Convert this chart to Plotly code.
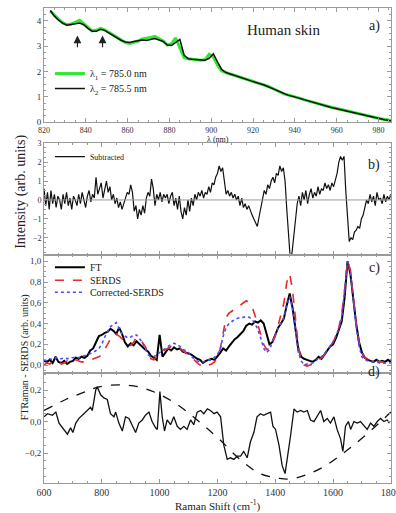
import plotly.graph_objects as go

# ---------------- Panel a: raw spectra vs wavelength ----------------
wl_nm = list(range(823, 990, 2))
lam2_black = [4.40,4.18,4.02,3.90,3.82,3.84,3.88,3.91,3.84,3.70,
              3.58,3.58,3.66,3.62,3.52,3.42,3.32,3.22,3.16,3.14,
              3.18,3.20,3.24,3.22,3.27,3.30,3.24,3.18,3.04,3.02,
              3.15,3.26,2.65,2.50,2.48,2.46,2.45,2.44,2.52,2.70,
              2.38,2.08,1.96,1.90,1.84,1.79,1.72,1.67,1.63,1.58,
              1.54,1.48,1.41,1.34,1.26,1.18,1.10,1.06,1.02,0.97,
              0.92,0.86,0.81,0.76,0.71,0.67,0.63,0.59,0.55,0.51,
              0.47,0.43,0.39,0.35,0.31,0.27,0.23,0.19,0.16,0.13,
              0.10,0.07,0.05,0.03]
lam1_green = [4.38,4.20,4.05,3.92,3.84,3.87,3.95,4.02,3.88,3.72,
              3.60,3.62,3.70,3.64,3.54,3.44,3.33,3.22,3.14,3.10,
              3.14,3.20,3.28,3.30,3.34,3.38,3.30,3.20,3.04,3.10,
              3.32,2.90,2.55,2.50,2.48,2.46,2.44,2.46,2.68,2.58,
              2.25,2.02,1.95,1.90,1.85,1.80,1.73,1.68,1.64,1.59,
              1.55,1.49,1.42,1.35,1.27,1.19,1.11,1.07,1.03,0.98,
              0.93,0.87,0.82,0.77,0.72,0.68,0.64,0.60,0.56,0.52,
              0.48,0.44,0.40,0.36,0.32,0.28,0.24,0.20,0.17,0.14,
              0.11,0.08,0.06,0.04]
arrow_nm = [836, 848]

# ---------------- Panel b: subtracted spectrum ----------------
sub_start, sub_step = 600, 6
subtracted = [0.6,-0.3,0.4,-0.5,0.5,-0.2,0.3,-0.4,0.2,0.0,
              -0.5,0.3,-0.2,0.4,-0.3,0.1,-0.5,0.2,0.0,-0.3,
              0.3,-0.2,0.4,0.0,-0.4,0.2,0.5,-0.1,0.3,0.1,
              1.2,0.3,0.6,0.9,0.1,0.5,1.0,0.4,0.7,0.0,
              0.3,-0.2,0.1,-0.4,-0.1,-0.5,-0.2,0.1,0.4,0.3,
              0.8,0.4,-0.6,-0.3,-1.0,-0.5,-0.8,-0.3,-0.7,0.1,
              0.4,0.2,1.1,0.6,-0.3,0.3,0.0,0.4,-0.1,0.3,
              0.1,0.3,-0.2,0.2,0.4,-0.3,0.1,-0.5,0.2,-0.6,
              -1.0,-0.4,-0.8,0.0,-0.6,0.1,-0.3,0.3,0.0,0.4,
              0.2,0.5,0.1,0.4,0.3,0.7,0.4,0.9,0.8,1.2,
              1.4,1.8,1.5,1.7,0.9,0.3,0.5,0.2,0.4,0.1,
              0.3,0.0,0.2,-0.3,0.1,-0.4,-0.2,-0.5,-0.3,-0.6,
              -0.8,-1.0,-1.2,-1.4,-0.9,-0.4,0.2,0.5,0.3,0.8,
              0.6,1.0,1.2,0.9,1.4,1.3,1.8,1.5,1.7,1.0,
              -0.5,-2.0,-3.1,-2.8,-2.0,-1.0,-0.2,0.2,-0.3,0.4,
              0.0,0.5,-0.2,0.3,0.6,0.1,0.4,0.2,0.7,0.3,
              0.6,0.5,0.9,0.6,0.8,0.5,0.9,0.7,1.0,1.4,
              2.0,2.3,2.1,2.3,0.5,-1.2,-2.2,-2.0,-2.1,-1.7,
              -1.6,-1.4,-1.5,-1.0,-0.8,-0.4,0.0,-0.2,0.3,-0.1,
              0.2,-0.3,0.4,0.0,0.1,-0.2,0.3,-0.1,0.2,0.0,
              0.3]
sub_shift = [sub_start + sub_step * i for i in range(len(subtracted))]

# ---------------- Panel c: normalised spectra ----------------
raman_c = list(range(600, 1801, 10))
ft = [0.04,0.03,0.05,0.02,0.08,0.03,0.02,0.04,0.01,0.03,
      0.04,0.07,0.06,0.08,0.07,0.09,0.14,0.16,0.22,0.28,
      0.29,0.31,0.32,0.35,0.33,0.30,0.36,0.30,0.22,0.18,
      0.21,0.19,0.23,0.20,0.17,0.15,0.13,0.09,0.07,0.05,
      0.29,0.08,0.12,0.16,0.14,0.17,0.15,0.16,0.13,0.12,
      0.11,0.10,0.08,0.06,0.05,0.02,0.04,0.05,0.06,0.05,
      0.08,0.12,0.16,0.14,0.18,0.22,0.25,0.27,0.30,0.33,
      0.38,0.40,0.39,0.42,0.41,0.43,0.40,0.30,0.20,0.22,
      0.30,0.36,0.40,0.45,0.58,0.69,0.55,0.33,0.15,0.08,
      0.06,0.05,0.04,0.03,0.05,0.08,0.06,0.10,0.14,0.18,
      0.20,0.26,0.34,0.42,0.65,1.00,0.88,0.62,0.40,0.22,
      0.12,0.07,0.05,0.04,0.03,0.05,0.03,0.04,0.03,0.05,
      0.03]
serds = [0.00,0.02,0.01,0.03,0.02,0.03,0.01,0.02,0.04,0.02,
         0.03,0.05,0.04,0.03,0.03,0.04,0.05,0.06,0.07,0.08,
         0.10,0.15,0.19,0.25,0.28,0.30,0.28,0.25,0.22,0.20,
         0.19,0.22,0.27,0.25,0.22,0.18,0.12,0.06,0.05,0.08,
         0.11,0.13,0.15,0.16,0.18,0.17,0.17,0.16,0.14,0.12,
         0.10,0.07,0.05,0.02,0.00,0.01,0.02,0.00,0.01,0.03,
         0.08,0.16,0.32,0.46,0.50,0.52,0.54,0.56,0.58,0.60,
         0.62,0.60,0.56,0.48,0.38,0.28,0.20,0.15,0.16,0.22,
         0.28,0.38,0.48,0.60,0.80,0.88,0.72,0.42,0.18,0.05,
         0.00,-0.01,0.00,0.01,0.02,0.05,0.07,0.10,0.14,0.18,
         0.22,0.28,0.36,0.50,0.72,1.00,0.92,0.65,0.40,0.22,
         0.12,0.07,0.06,0.05,0.04,0.04,0.03,0.03,0.02,0.03,
         0.02]
corrected = [0.05,0.04,0.06,0.05,0.07,0.06,0.06,0.07,0.06,0.07,
             0.07,0.08,0.07,0.08,0.09,0.10,0.11,0.12,0.14,0.16,
             0.20,0.27,0.32,0.37,0.39,0.41,0.35,0.30,0.28,0.26,
             0.27,0.29,0.29,0.26,0.22,0.16,0.10,0.08,0.08,0.10,
             0.12,0.14,0.16,0.18,0.20,0.21,0.20,0.18,0.15,0.14,
             0.12,0.08,0.06,0.04,0.03,0.03,0.04,0.05,0.05,0.08,
             0.10,0.16,0.28,0.36,0.40,0.42,0.44,0.45,0.46,0.46,
             0.47,0.46,0.44,0.40,0.34,0.26,0.16,0.12,0.15,0.22,
             0.30,0.36,0.40,0.46,0.58,0.66,0.55,0.32,0.12,0.04,
             0.00,0.01,0.02,0.02,0.04,0.07,0.08,0.11,0.14,0.18,
             0.22,0.28,0.35,0.45,0.70,1.00,0.90,0.62,0.38,0.18,
             0.08,0.05,0.04,0.03,0.03,0.03,0.02,0.02,0.02,0.02,
             0.02]

# ---------------- Panel d: FT Raman - SERDS ----------------
diff_x = [600,612,629,641,652,664,675,681,692,700,710,721,738,750,761,767,779,784,796,807,
          819,830,842,848,859,871,882,894,905,917,928,940,951,963,974,986,992,1001,1009,1017,
          1026,1038,1049,1061,1072,1084,1095,1107,1118,1130,1142,1153,1165,1176,1188,1199,1211,1222,1234,1245,
          1257,1268,1280,1291,1303,1314,1326,1337,1349,1360,1372,1384,1392,1401,1413,1424,1434,1443,1453,1465,
          1476,1488,1499,1511,1522,1534,1545,1557,1568,1580,1591,1603,1614,1626,1634,1643,1653,1661,1672,1684,
          1695,1707,1718,1730,1741,1753,1764,1776,1787,1795]
diff_y = [0.03,0.05,0.04,0.06,-0.01,-0.04,-0.06,-0.08,-0.04,-0.07,-0.01,0.02,0.05,0.07,0.09,0.07,0.20,0.22,0.17,0.15,
          0.14,0.05,0.03,0.06,-0.01,-0.06,0.03,0.02,-0.02,-0.07,-0.01,0.01,0.04,0.06,0.00,-0.04,-0.05,0.19,0.03,-0.06,
          0.01,-0.02,0.03,-0.03,-0.05,-0.03,-0.05,0.01,-0.02,0.06,0.07,0.05,0.08,0.07,0.05,0.06,0.03,-0.15,-0.24,-0.23,
          -0.24,-0.22,-0.22,-0.19,-0.23,-0.13,-0.07,0.03,0.05,0.04,0.05,0.06,-0.03,-0.05,-0.15,-0.28,-0.33,-0.22,-0.09,0.08,
          0.06,0.07,0.06,0.07,0.01,0.00,0.03,0.07,0.00,0.02,-0.01,0.03,-0.05,-0.11,-0.19,-0.03,0.00,-0.05,0.00,-0.01,
          0.00,-0.03,-0.05,-0.01,-0.03,0.00,0.02,0.00,0.01,-0.01]
base_x = [600,675,744,790,859,928,997,1067,1136,1205,1278,1347,1413,1449,1505,1574,1643,1717,1800]
base_y = [0.07,0.14,0.19,0.22,0.233,0.22,0.175,0.10,0.0,-0.11,-0.24,-0.33,-0.36,-0.365,-0.34,-0.28,-0.19,-0.08,0.06]

FONT = "Liberation Serif, Times New Roman, DejaVu Serif, serif"
fig = go.Figure()

fig.add_trace(go.Scatter(x=wl_nm, y=lam1_green, mode="lines", name="λ<sub>1</sub> = 785.0 nm",
                         line=dict(color="#33e633", width=3), xaxis="x", yaxis="y", legend="legend"))
fig.add_trace(go.Scatter(x=wl_nm, y=lam2_black, mode="lines", name="λ<sub>2</sub> = 785.5 nm",
                         line=dict(color="#111111", width=1.5), xaxis="x", yaxis="y", legend="legend4"))
fig.add_trace(go.Scatter(x=sub_shift, y=subtracted, mode="lines", name="Subtracted",
                         line=dict(color="#111111", width=1.2), xaxis="x2", yaxis="y2", legend="legend2"))
fig.add_trace(go.Scatter(x=raman_c, y=ft, mode="lines", name="FT",
                         line=dict(color="#000000", width=2), xaxis="x3", yaxis="y3", legend="legend3"))
fig.add_trace(go.Scatter(x=raman_c, y=serds, mode="lines", name="SERDS",
                         line=dict(color="#e8282a", width=1.6, dash="dash"), xaxis="x3", yaxis="y3", legend="legend5"))
fig.add_trace(go.Scatter(x=raman_c, y=corrected, mode="lines", name="Corrected-SERDS",
                         line=dict(color="#4a4aff", width=1.6, dash="dot"), xaxis="x3", yaxis="y3", legend="legend6"))
fig.add_trace(go.Scatter(x=diff_x, y=diff_y, mode="lines", showlegend=False,
                         line=dict(color="#111111", width=1.3), xaxis="x4", yaxis="y4"))
fig.add_trace(go.Scatter(x=base_x, y=base_y, mode="lines", showlegend=False, line_shape="spline",
                         line=dict(color="#111111", width=1.3, dash="dash"), xaxis="x4", yaxis="y4"))

ax_common = dict(showline=True, mirror="allticks", linecolor="#9a9a9a", linewidth=1,
                 ticks="inside", ticklen=4, tickcolor="#9a9a9a", showgrid=False, zeroline=False,
                 tickfont=dict(family=FONT, size=9, color="#333"))

def minor(d):
    return dict(ticks="inside", ticklen=2, tickcolor="#9a9a9a", dtick=d)

def leg(x, y, size):
    return dict(x=x, y=y, xanchor="left", yanchor="middle", bgcolor="rgba(0,0,0,0)",
                font=dict(family=FONT, size=size, color="#222"), itemwidth=30)

dom_a = [0.7594, 1.0]
dom_b = [0.4791, 0.7155]
dom_c = [0.2322, 0.4791]
dom_d = [0.0, 0.2322]

fig.update_layout(
    width=396, height=513, margin=dict(l=44, r=4, t=5, b=30),
    paper_bgcolor="white", plot_bgcolor="white", separators=",.",
    font=dict(family=FONT, color="#222"),
    xaxis=dict(ax_common, domain=[0, 1], anchor="y", range=[820, 986], dtick=20, minor=minor(5),
               tickfont=dict(family=FONT, size=8, color="#333")),
    yaxis=dict(ax_common, domain=dom_a, anchor="x", range=[0, 4.5], dtick=1, minor=minor(0.25)),
    xaxis2=dict(ax_common, domain=[0, 1], anchor="y2", range=[600, 1800.5], dtick=200, minor=minor(50),
                showticklabels=False),
    yaxis2=dict(ax_common, domain=dom_b, anchor="x2", range=[-2.93, 3.0], dtick=1, minor=minor(0.25),
                tickfont=dict(family=FONT, size=8, color="#333")),
    xaxis3=dict(ax_common, domain=[0, 1], anchor="y3", range=[600, 1800.5], dtick=200, minor=minor(50),
                showticklabels=False),
    yaxis3=dict(ax_common, domain=dom_c, anchor="x3", range=[-0.074, 1.057], dtick=0.2, tickformat=".1f",
                minor=minor(0.05)),
    xaxis4=dict(ax_common, domain=[0, 1], anchor="y4", range=[600, 1800.5], dtick=200, minor=minor(50),
                tickfont=dict(family=FONT, size=10, color="#333"), ticklabeloverflow="allow",
                automargin=False),
    yaxis4=dict(ax_common, domain=dom_d, anchor="x4", range=[-0.39, 0.31], dtick=0.2, tickformat=".1f",
                minor=minor(0.05)),
    legend=leg(0.017, 0.862, 10),
    legend4=leg(0.017, 0.8305, 10),
    legend2=leg(0.017, 0.687, 8),
    legend3=leg(0.017, 0.454, 10),
    legend5=leg(0.017, 0.4268, 10),
    legend6=leg(0.017, 0.4017, 10),
    shapes=[dict(type="line", xref="x2 domain", x0=0, x1=1, yref="y2", y0=0, y1=0,
                 line=dict(color="#9a9a9a", width=1))],
)

ann = []
for xa in arrow_nm:
    ann.append(dict(x=xa, y=3.42, ax=xa, ay=2.9, xref="x", yref="y", axref="x", ayref="y",
                    showarrow=True, arrowhead=2, arrowsize=1.3, arrowwidth=1.2, arrowcolor="#222", text=""))
def txt(t, x, y, size, **kw):
    d = dict(text=t, x=x, y=y, xref="paper", yref="paper", showarrow=False,
             font=dict(family=FONT, size=size, color="#222"))
    d.update(kw)
    ann.append(d)

txt("Human skin", 0.80, 0.975, 15)
txt("a)", 0.975, 0.983, 14)
txt("b)", 0.975, 0.690, 14)
txt("c)", 0.975, 0.452, 14)
txt("d)", 0.975, 0.213, 14)
txt("λ (nm)", 0.5, 0.7235, 8, yanchor="middle")
txt("Raman Shift (cm<sup>-1</sup>)", 0.5, -0.047, 11, yanchor="middle")
txt("Intensity (arb. units)", -0.095, 0.613, 14, textangle=-90)
txt("FTRaman - SERDS (arb. units)", -0.078, 0.128, 10, textangle=-90)
fig.update_layout(annotations=ann)

fig.write_html("out.html")
